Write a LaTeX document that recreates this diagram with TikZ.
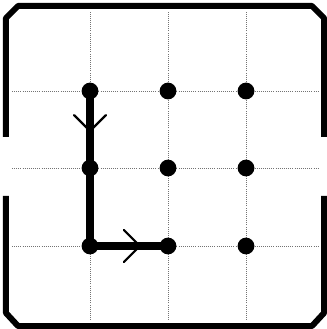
\documentclass[tikz,border=0pt]{standalone}
\usetikzlibrary{decorations.markings}
\tikzset{
	dot/.style={circle, fill=black, inner sep=0pt, minimum size=0.42cm},
	gridline/.style={densely dotted, line width=0.5pt, color=black!55},
	frame/.style={line width=1.5mm, line join=round},
	walk/.style={line width=1.8mm, line cap=round, line join=round},
	midarrow/.style={postaction={decorate, decoration={markings,
		mark=at position #1 with {\draw[line width=0.55mm, line cap=round] (-0.4,0.4) -- (0,0) -- (-0.4,-0.4);}}}}
}

\begin{document}
\begin{tikzpicture}
		%%%%% START %%%%%
		\useasboundingbox (0, 0) rectangle (8.175, 8.225);
		
		% frame, open at both sides
		\draw[frame] (0.15, 4.8) -- (0.15, 7.775) -- (0.45, 8.075) -- (7.8, 8.075) -- (8.1, 7.775) -- (8.1, 4.8);
		\draw[frame] (0.15, 3.325) -- (0.15, 0.4) -- (0.45, 0.075) -- (7.8, 0.075) -- (8.1, 0.4) -- (8.1, 3.325);
		
		% dotted grid
		\foreach \x in {2.25, 4.2, 6.15}
			\draw[gridline] (\x, 0.225) -- (\x, 7.925);
		\foreach \y in {5.95, 4.025, 2.075}
			\draw[gridline] (0.3, \y) -- (7.95, \y);
		
		% walk
		\foreach \i/\x in {1/2.25, 2/4.2, 3/6.15}
			\foreach \j/\y in {1/5.95, 2/4.025, 3/2.075}
				\node[dot] (d\i\j) at (\x, \y) {};
		
		\draw[walk, midarrow=0.52] (d11.center) -- (d12.center);
		\draw[walk] (d12.center) -- (d13.center);
		\draw[walk, midarrow=0.64] (d13.center) -- (d23.center);
		
		%%%%% END %%%%%
\end{tikzpicture}
\end{document}
